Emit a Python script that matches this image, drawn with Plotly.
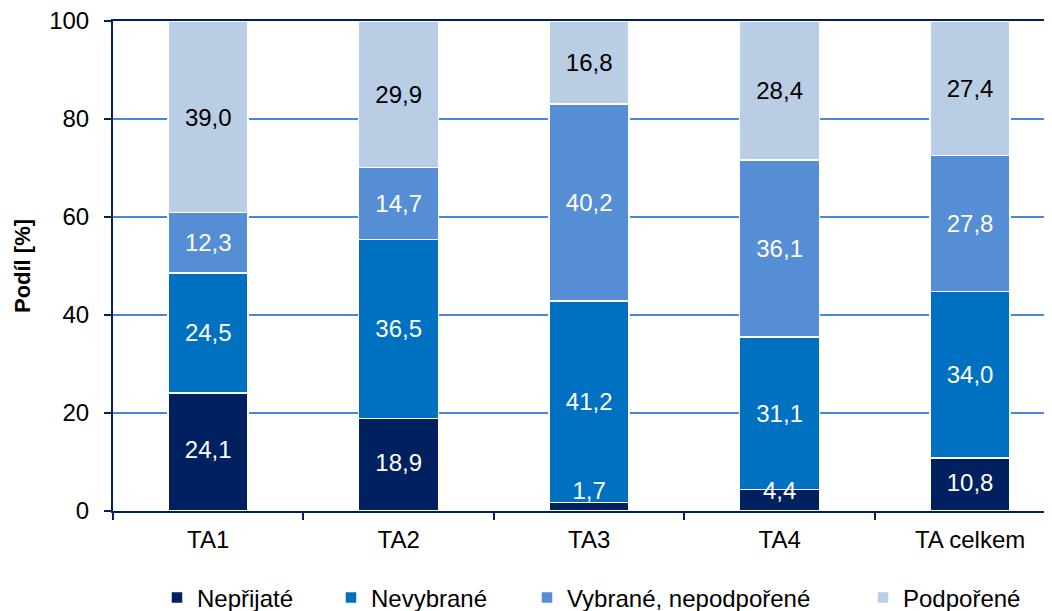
import plotly.graph_objects as go

categories = ["TA1", "TA2", "TA3", "TA4", "TA celkem"]
neprijate = [24.1, 18.9, 1.7, 4.4, 10.8]
nevybrane = [24.5, 36.5, 41.2, 31.1, 34.0]
vybrane_nepodporene = [12.3, 14.7, 40.2, 36.1, 27.8]
podporene = [39.0, 29.9, 16.8, 28.4, 27.4]

series = [
    ("Nepřijaté", neprijate, "#002060", "white", "legend"),
    ("Nevybrané", nevybrane, "#0070C0", "white", "legend2"),
    ("Vybrané, nepodpořené", vybrane_nepodporene, "#558ED5", "white", "legend3"),
    ("Podpořené", podporene, "#B9CDE5", "black", "legend4"),
]

FONT = "Liberation Sans, Arial, sans-serif"
NAVY = "#002060"
FS = 24

# page body has an 8px margin; the figure is sized/offset to compensate
OFF = 8
FIG_W, FIG_H = 1052 - OFF, 611 - OFF
L, T, W, H = 113 - OFF, 21 - OFF, 939, 490

fig = go.Figure()
for i, (name, vals, color, tcolor, leg) in enumerate(series):
    fig.add_trace(go.Bar(
        x=categories, y=vals, name=name,
        marker=dict(color=color, line=dict(color="white", width=1.5)),
        width=0.42,
        texttemplate="%{y:.1f}" if i > 0 else None,
        textposition="inside" if i > 0 else "none",
        insidetextanchor="middle",
        textangle=0,
        textfont=dict(color=tcolor, size=FS, family=FONT),
        legend=leg,
    ))

# labels of the bottom segment drawn on top (small segments overflow their bar)
fig.add_trace(go.Scatter(
    x=categories, y=[max(v / 2, 3.6) for v in neprijate],
    text=[f"{v:.1f}".replace(".", ",") for v in neprijate],
    mode="text", textposition="middle center",
    textfont=dict(color="white", size=FS, family=FONT),
    showlegend=False, hoverinfo="skip", cliponaxis=False,
))

legend_text_x = [197, 371, 567, 903]  # page pixels
legend_y_px = 598
leg_common = dict(
    orientation="h",
    y=-(legend_y_px - (21 + H)) / H, yanchor="middle", xanchor="left",
    font=dict(size=FS, family=FONT, color="black"),
    itemwidth=30, bgcolor="rgba(0,0,0,0)",
)

fig.update_layout(
    barmode="stack",
    separators=", ",
    width=FIG_W, height=FIG_H,
    margin=dict(l=L, r=FIG_W - L - W, t=T, b=FIG_H - T - H, autoexpand=False),
    plot_bgcolor="white", paper_bgcolor="white",
    font=dict(family=FONT, size=FS, color="black"),
    uniformtext=dict(minsize=FS, mode="show"),
    legend=dict(x=(legend_text_x[0] - 40 - 113) / W, **leg_common),
    legend2=dict(x=(legend_text_x[1] - 40 - 113) / W, **leg_common),
    legend3=dict(x=(legend_text_x[2] - 40 - 113) / W, **leg_common),
    legend4=dict(x=(legend_text_x[3] - 40 - 113) / W, **leg_common),
    showlegend=True,
)

fig.update_xaxes(
    range=[-0.5, 4.43],
    showline=True, linecolor=NAVY, linewidth=2, mirror=True,
    ticks="outside", tickson="boundaries", ticklen=7, tickcolor=NAVY, tickwidth=2,
    tickfont=dict(size=FS, family=FONT, color="black"),
    ticklabelstandoff=6,
    showgrid=False,
)
fig.update_yaxes(
    range=[0, 100], dtick=20,
    showline=True, linecolor=NAVY, linewidth=2,
    ticks="outside", ticklen=7, tickcolor=NAVY, tickwidth=2,
    tickfont=dict(size=FS, family=FONT, color="black"),
    ticklabelstandoff=10, ticklabeloverflow="allow",
    showgrid=True, gridcolor="#4A86E0", gridwidth=1.5,
    zeroline=False,
    title=dict(text="<b>Podíl [%]</b>", font=dict(size=22, family=FONT, color="black"), standoff=12),
)

fig.write_html("out.html")
